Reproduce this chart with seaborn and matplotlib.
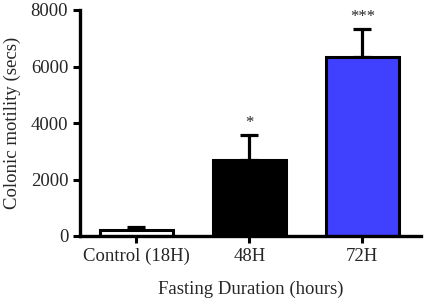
import matplotlib
matplotlib.use("Agg")
import matplotlib.pyplot as plt
import seaborn as sns
import pandas as pd

groups = ["Control (18H)", "48H", "72H"]
means = [220, 2700, 6350]
sems = [110, 880, 980]
stars = ["", "*", "***"]
colors = ["#ffffff", "#000000", "#4040ff"]

sns.set_style("ticks")
plt.rcParams['font.family'] = ['Liberation Serif', 'DejaVu Serif']

df = pd.DataFrame({"group": groups, "motility": means})

fig = plt.figure(figsize=(4.25, 3.03), dpi=100)
ax = fig.add_axes([80 / 425, 1 - 236 / 303, 341 / 425, 226 / 303])

sns.barplot(data=df, x="group", y="motility", hue="group", palette=colors,
            saturation=1, edgecolor="black", linewidth=2.2, width=0.65,
            legend=False, ax=ax, zorder=2)
# only the upper half of the error bars, like in the original
ax.errorbar(range(len(groups)), means, yerr=[[0] * len(sems), sems],
            fmt="none", ecolor="black", elinewidth=2.3, capsize=6.5,
            capthick=2.3, zorder=1)

for i, s in enumerate(stars):
    if s:
        ax.text(i, means[i] + sems[i] + 150, s, ha="center", va="bottom",
                fontsize=12)

ax.set_xlim(-0.5, 2.52)
ax.set_ylim(0, 8000)
ax.set_yticks([0, 2000, 4000, 6000, 8000])
ax.set_xlabel("Fasting Duration (hours)", fontsize=13.5, labelpad=11)
ax.set_ylabel("Colonic motility (secs)", fontsize=13.5, labelpad=7)
ax.tick_params(axis="both", labelsize=13.5, width=2.2, length=5, color="black")
sns.despine(ax=ax)
for sp in ["left", "bottom"]:
    ax.spines[sp].set_linewidth(2.4)
    ax.spines[sp].set_color("black")

fig.savefig("out.png", dpi=100)
